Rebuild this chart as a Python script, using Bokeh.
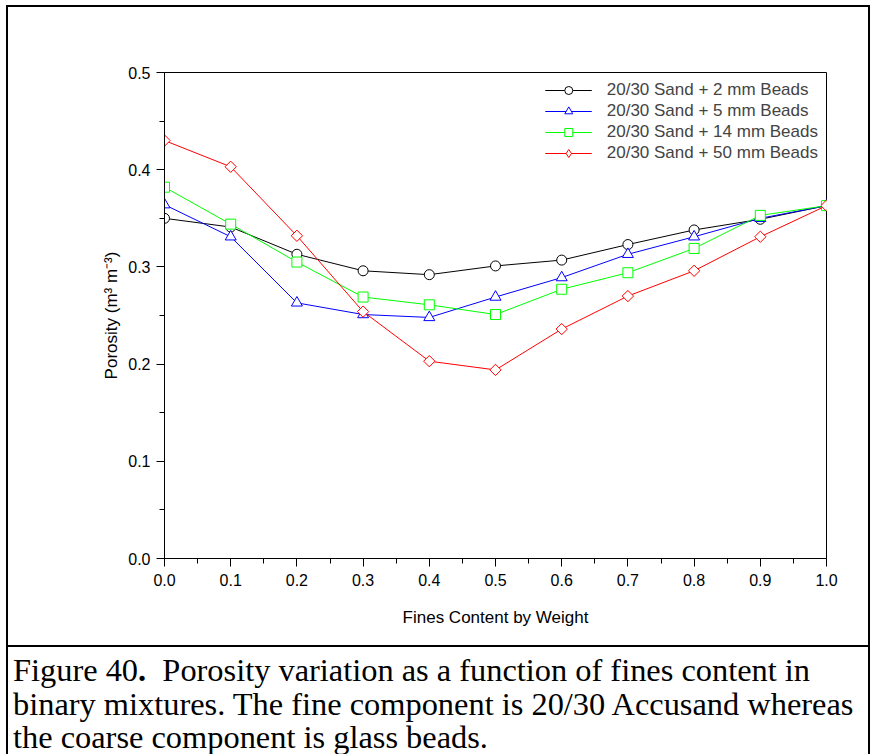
from bokeh.plotting import figure
from bokeh.models import (Range1d, SingleIntervalTicker, PrintfTickFormatter, Legend,
                          LegendItem, Div)
from bokeh.layouts import column, row
from bokeh.embed import file_html
from bokeh.resources import INLINE

# ---- data ----
fines = [0.0, 0.1, 0.2, 0.3, 0.4, 0.5, 0.6, 0.7, 0.8, 0.9, 1.0]
beads_2mm = [0.350, 0.341, 0.313, 0.296, 0.292, 0.301, 0.307, 0.323, 0.338, 0.349, 0.363]
beads_5mm = [0.364, 0.331, 0.263, 0.251, 0.248, 0.269, 0.289, 0.313, 0.331, 0.350, 0.363]
beads_14mm = [0.382, 0.344, 0.305, 0.269, 0.261, 0.251, 0.277, 0.294, 0.319, 0.353, 0.363]
beads_50mm = [0.430, 0.403, 0.332, 0.254, 0.203, 0.194, 0.236, 0.270, 0.296, 0.331, 0.363]
series_labels = ["20/30 Sand + 2 mm Beads", "20/30 Sand + 5 mm Beads",
                 "20/30 Sand + 14 mm Beads", "20/30 Sand + 50 mm Beads"]
x_label = "Fines Content by Weight"
y_label = "Porosity (m\u00b3 m\u207b\u00b3)"
caption_head = "Figure 40"
caption_lines = ["Porosity variation as a function of fines content in",
                 "binary mixtures. The fine component is 20/30 Accusand whereas",
                 "the coarse component is glass beads."]

# ---- chart ----
PW, PH = 860, 638
p = figure(width=PW, height=PH, output_backend="svg", toolbar_location=None,
           x_range=Range1d(0, 1), y_range=Range1d(0, 0.5),
           min_border_left=156, min_border_right=42, min_border_top=65, min_border_bottom=87)
p.xgrid.visible = False
p.ygrid.visible = False
p.outline_line_color = "black"
p.outline_line_width = 1
p.background_fill_color = "white"
p.border_fill_color = "white"

for ax in (p.xaxis[0], p.yaxis[0]):
    ax.ticker = SingleIntervalTicker(interval=0.1, num_minor_ticks=2)
    ax.formatter = PrintfTickFormatter(format="%.1f")
    ax.major_tick_in = 0
    ax.major_tick_out = 8
    ax.minor_tick_in = 0
    ax.minor_tick_out = 5
    ax.axis_line_color = "black"
    ax.major_tick_line_color = "black"
    ax.minor_tick_line_color = "black"
    ax.major_label_text_font = "Liberation Sans"
    ax.major_label_text_font_size = "16px"
    ax.major_label_text_color = "black"
    ax.axis_label_text_font = "Liberation Sans"
    ax.axis_label_text_font_size = "17px"
    ax.axis_label_text_font_style = "normal"
    ax.axis_label_text_color = "black"

p.xaxis.axis_label = x_label
p.yaxis.axis_label = y_label
p.xaxis.major_label_standoff = 7
p.xaxis.axis_label_standoff = 19
p.yaxis.major_label_standoff = 6
p.yaxis.axis_label_standoff = 4

colors = ["#000000", "#0000FF", "#00FF00", "#FF0000"]
markers = ["circle", "triangle", "square", "square"]
legend_markers = ["circle", "triangle", "square", "diamond"]
angles = [0, 0, 0, 0.785398]
sizes = [10, 11, 10, 8]
legend_sizes = [10, 11, 10, 10]
all_series = [beads_2mm, beads_5mm, beads_14mm, beads_50mm]
items = []
for ys, c, m, lm, a, s, ls, lab in zip(all_series, colors, markers, legend_markers, angles,
                                       sizes, legend_sizes, series_labels):
    ln = p.line(fines, ys, line_color=c, line_width=1)
    key = None
    if lm != m:
        # diamond key marker, drawn underneath the rotated squares (fully covered by them)
        key = p.scatter(fines, ys, marker=lm, size=ls, line_color=c, line_width=1,
                        fill_color="white")
    sc = p.scatter(fines, ys, marker=m, size=s, angle=a, line_color=c, line_width=1,
                   fill_color="white")
    items.append(LegendItem(label=lab, renderers=[ln, key if key is not None else sc]))

legend = Legend(items=items, location="top_right")
legend.border_line_color = None
legend.background_fill_alpha = 0
legend.label_text_font = "Liberation Sans"
legend.label_text_font_size = "17px"
legend.glyph_width = 47
legend.glyph_height = 20
legend.label_height = 20
legend.label_standoff = 15
legend.spacing = 1
legend.padding = 0
legend.margin = 8
p.add_layout(legend, "center")

# ---- caption (HTML text) ----
CW, CH = 860, 106
cap_html = (
    '<div style="position:relative; left:5px; top:7px; font-family:\'Liberation Serif\', serif;'
    ' font-size:32.4px; line-height:33.5px; white-space:nowrap; color:black;">'
    + caption_head + "<b>.</b>&nbsp; " + caption_lines[0] + "<br>"
    + caption_lines[1] + "<br>" + caption_lines[2] + "</div>"
)
cap = Div(text=cap_html, width=CW, height=CH, margin=0)

# ---- frame lines as layout blocks ----
def block(w, h, color):
    return Div(text="", width=w, height=h, margin=0,
               styles={"background-color": color})

inner = column(block(CW, 2, "black"), p, block(CW, 2, "black"), cap, spacing=0)
body = row(block(6, 749, "white"), block(2, 749, "black"), inner, block(2, 749, "black"),
           spacing=0)
layout = column(block(870, 5, "white"), body, spacing=0)

open("out.html", "w").write(file_html(layout, INLINE))
